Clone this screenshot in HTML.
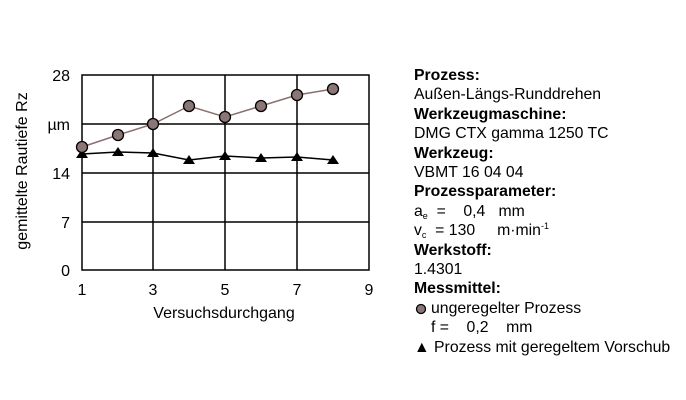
<!DOCTYPE html>
<html><head><meta charset="utf-8"><style>
body{margin:0;background:#fff;width:686px;height:400px;overflow:hidden;font-family:"Liberation Sans",sans-serif;}
.t{position:absolute;left:414px;font-size:15.8px;line-height:19.4px;color:#000;white-space:pre;}
b{font-weight:bold}
sub,sup{font-size:9px;line-height:0;position:relative;vertical-align:baseline}
sub{top:3px}sup{top:-6px}
.i{display:inline-block;width:17px}
</style></head><body>
<svg width="686" height="400" style="position:absolute;left:0;top:0" font-family="Liberation Sans, sans-serif">
<g stroke="#000" stroke-width="1.5" fill="none">
<rect x="82" y="75" width="287" height="195"/>
<line x1="82" y1="124" x2="369" y2="124"/><line x1="82" y1="173" x2="369" y2="173"/><line x1="82" y1="222" x2="369" y2="222"/>
<line x1="153" y1="75" x2="153" y2="270"/><line x1="225" y1="75" x2="225" y2="270"/><line x1="297" y1="75" x2="297" y2="270"/>
</g>
<g font-size="16" text-anchor="end">
<text x="70" y="81">28</text><text x="70" y="130">µm</text><text x="70" y="179">14</text><text x="70" y="228">7</text><text x="70" y="276">0</text>
</g>
<g font-size="16" text-anchor="middle">
<text x="82" y="295">1</text><text x="153" y="295">3</text><text x="225" y="295">5</text><text x="297" y="295">7</text><text x="369" y="295">9</text>
<text x="224" y="318">Versuchsdurchgang</text>
<text transform="translate(27,171) rotate(-90)">gemittelte Rautiefe Rz</text>
</g>
<polyline points="82,154 118,152 153,153 189,160 225,156 261,158 297,157 333,160" stroke="#000" stroke-width="1.5" fill="none"/>
<g fill="#000">
<polygon points="82,149 88,158 76,158"/><polygon points="118,147 124,156 112,156"/><polygon points="153,148 159,157 147,157"/><polygon points="189,155 195,164 183,164"/><polygon points="225,151 231,160 219,160"/><polygon points="261,153 267,162 255,162"/><polygon points="297,152 303,161 291,161"/><polygon points="333,155 339,164 327,164"/>
</g>
<polyline points="82,147 118,135 153,124 189,106 225,117 261,106 297,95 333,89" stroke="#8a7070" stroke-width="1.5" fill="none"/>
<g fill="#8b7676" stroke="#000" stroke-width="1.3">
<circle cx="82" cy="147" r="5.5"/><circle cx="118" cy="135" r="5.5"/><circle cx="153" cy="124" r="5.5"/><circle cx="189" cy="106" r="5.5"/><circle cx="225" cy="117" r="5.5"/><circle cx="261" cy="106" r="5.5"/><circle cx="297" cy="95" r="5.5"/><circle cx="333" cy="89" r="5.5"/>
<circle cx="421" cy="309" r="4.5"/>
</g>
</svg>
<div class="t" style="top:66px"><b>Prozess:</b>
Außen-Längs-Runddrehen
<b>Werkzeugmaschine:</b>
DMG CTX gamma 1250 TC
<b>Werkzeug:</b>
VBMT 16 04 04
<b>Prozessparameter:</b>
a<sub>e</sub>  =    0,4   mm
v<sub>c</sub>  = 130     m·min<sup>-1</sup>
<b>Werkstoff:</b>
1.4301
<b>Messmittel:</b>
<span class="i"></span>ungeregelter Prozess
<span class="i"></span>f =    0,2    mm
▲ Prozess mit geregeltem Vorschub</div>
</body></html>
